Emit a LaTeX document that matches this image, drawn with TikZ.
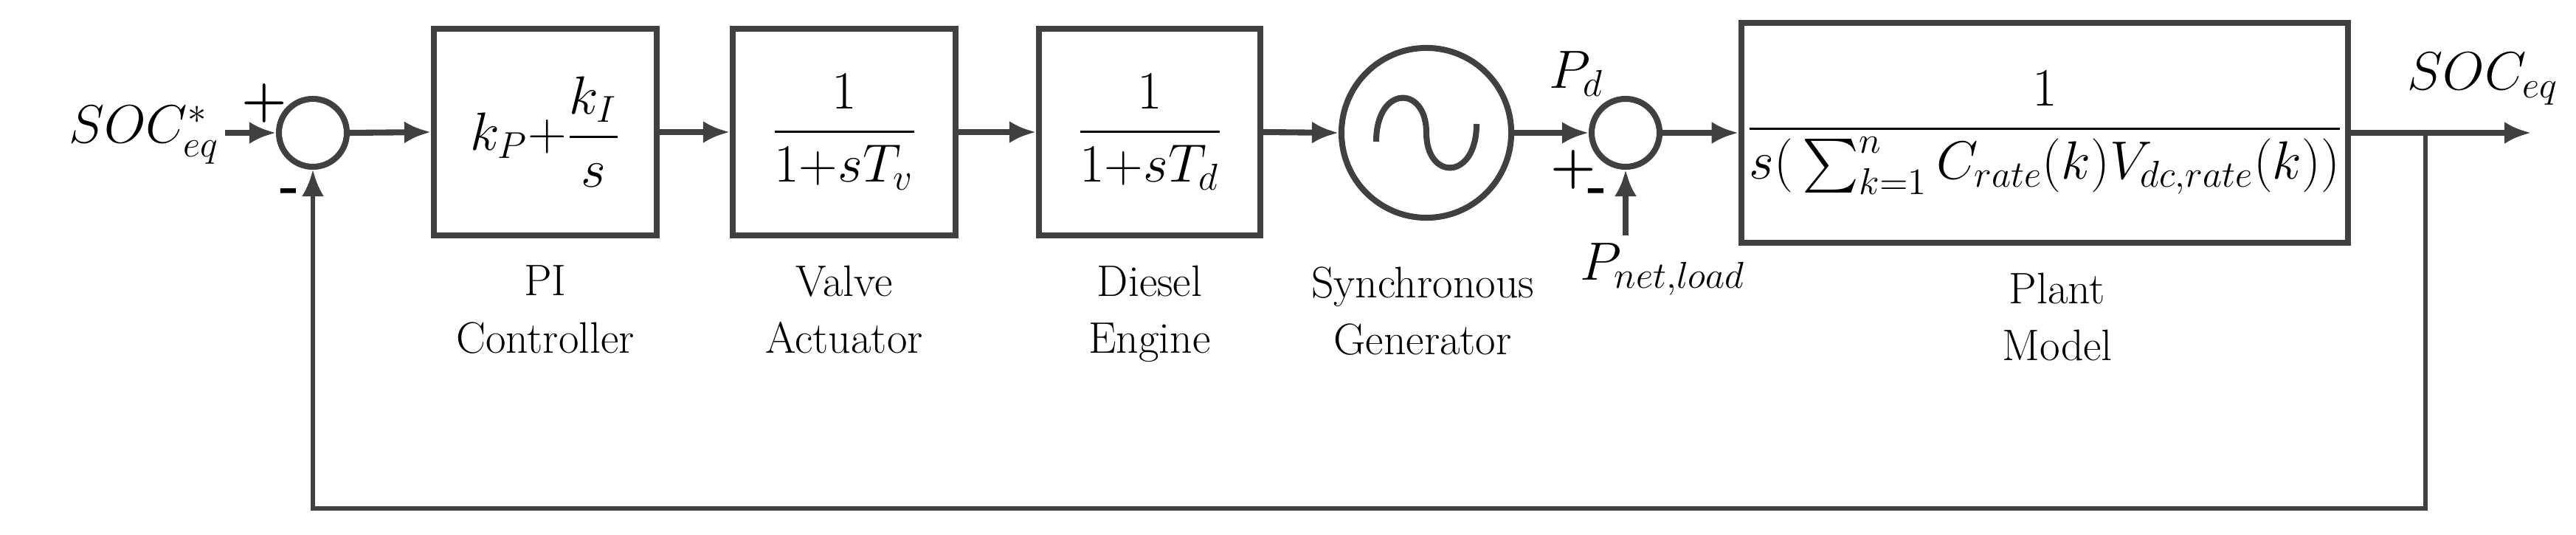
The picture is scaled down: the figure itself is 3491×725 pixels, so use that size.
\documentclass[tikz,border=0pt]{standalone}
\usepackage{amsmath}
\usetikzlibrary{arrows.meta}
\definecolor{ln}{HTML}{404040}
\begin{document}
\begin{tikzpicture}[x=0.01cm,y=-0.01cm,
  line width=2.3pt, draw=ln,
  blk/.style={draw=ln, line width=2.3pt, minimum height=2.8cm, inner sep=0pt},
  sum/.style={circle, draw=ln, line width=2.3pt, minimum size=0.92cm, inner sep=0pt},
  lab/.style={font=\fontsize{17}{22}\selectfont, align=center, text=black},
  sgn/.style={font=\fontsize{20}{20}\selectfont\bfseries, text=black, inner sep=0pt},
  arr/.style={-{Latex[length=0.36cm,width=0.3cm]}, draw=ln}]
\useasboundingbox (0,0) rectangle (3491,725);
\fontsize{22}{26}\selectfont
% signals
\node[anchor=base east, inner xsep=1pt] (ref) at (305,194) {$SOC^{*}_{eq}$};
\node[sum] (s1) at (424,180) {};
\node[sgn] (p1) at (358,140) {+};
\node[sgn] (m1) at (393,265) {-};
% blocks
\node[blk, minimum width=3.02cm] (pi) at (739,179) {$k_P{+}\dfrac{k_I}{s}$};
\node[blk, minimum width=3.02cm] (va) at (1144,179) {$\dfrac{1}{1{+}sT_v}$};
\node[blk, minimum width=3.0cm] (de) at (1558,179) {$\dfrac{1}{1{+}sT_d}$};
\node[circle, draw=ln, line width=2.3pt, minimum size=2.3cm] (gen) at (1933,180) {};
\node[sum] (s2) at (2203,180) {};
\node[blk, minimum width=8.22cm, minimum height=2.97cm] (pl) at (2771,180)
  {$\dfrac{1}{s(\,\sum_{k=1}^{n} C_{rate}(k)V_{dc,rate}(k))}$};
% labels
\node[lab, anchor=north] (lpi) at (739,330) {PI\\Controller};
\node[lab, anchor=north] (lva) at (1144,330) {Valve\\Actuator};
\node[lab, anchor=north] (lde) at (1558,330) {Diesel\\Engine};
\node[lab, anchor=north] (lgen) at (1928,332) {Synchronous\\Generator};
\node[lab, anchor=north] (lpl) at (2788,340) {Plant\\Model};
\node[anchor=base west] (pd) at (2070,120) {$P_d$};
\node[anchor=base west] (pn) at (2112,380) {$P_{net,load}$};
\node[sgn] (p2) at (2132,230) {+};
\node[sgn] (m2) at (2165,265) {-};
\node[anchor=base west, inner xsep=1pt] (out) at (3255,122) {$SOC_{eq}$};
\coordinate (br) at (3287,180);
\coordinate (oe) at (3430,180);
\coordinate (bb) at (3287,689);
\coordinate (bl) at (424,689);
\coordinate (pnt) at (2203,319);
% sine inside generator
\begin{scope}[shift={(gen.center)}]
\draw[line width=2.3pt] (-68,12) .. controls (-68,-65) and (0,-65) .. (0,0)
  .. controls (0,65) and (68,65) .. (68,-12);
\end{scope}
% connectors
\draw[arr] (ref.east |- s1.west) -- (s1.west);
\draw[arr] (s1.east) -- (pi.west);
\draw[arr] (pi.east) -- (va.west);
\draw[arr] (va.east) -- (de.west);
\draw[arr] (de.east) -- (gen.west);
\draw[arr] (gen.east) -- (s2.west);
\draw[arr] (s2.east) -- (pl.west);
\draw[arr] (pl.east) -- (oe);
\draw[arr] (pnt) -- (s2.south);
\draw[arr, line width=1.6pt] (br) -- (bb) -- (bl) -- (s1.south);
\end{tikzpicture}
\end{document}
